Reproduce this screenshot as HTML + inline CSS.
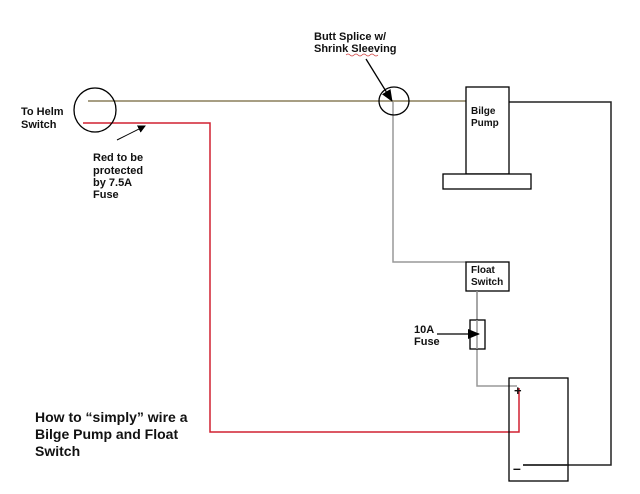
<!DOCTYPE html>
<html><head><style>
html,body{margin:0;padding:0;background:#fff;}
svg{display:block;}
text{font-family:"Liberation Sans",Arial,sans-serif;font-weight:bold;fill:#111;}
</style></head><body>
<svg width="640" height="494" viewBox="0 0 640 494" xmlns="http://www.w3.org/2000/svg">
<defs>
<marker id="ah" markerWidth="8" markerHeight="8" refX="7" refY="4" orient="auto" markerUnits="userSpaceOnUse">
<path d="M0,0 L8,4 L0,8 Z" fill="#000"/></marker>
<marker id="ah2" markerWidth="12" markerHeight="10" refX="11" refY="5" orient="auto" markerUnits="userSpaceOnUse">
<path d="M0,0 L12,5 L0,10 Z" fill="#000"/></marker>
</defs>
<line x1="88" y1="101" x2="466" y2="101" stroke="#8a7f5a" stroke-width="1.5"/>
<polyline points="83,123 210,123 210,432 519,432 519,388" fill="none" stroke="#d02030" stroke-width="1.5"/>
<polyline points="509,102 611,102 611,465 523,465" fill="none" stroke="#222" stroke-width="1.5"/>
<polyline points="393,102 393,262 466,262" fill="none" stroke="#999" stroke-width="1.5"/>
<polyline points="477,291 477,386 517,386" fill="none" stroke="#999" stroke-width="1.5"/>
<ellipse cx="95" cy="110" rx="21" ry="22" fill="none" stroke="#000" stroke-width="1.3"/>
<ellipse cx="394" cy="101" rx="15" ry="14" fill="none" stroke="#000" stroke-width="1.3"/>
<rect x="466" y="87" width="43" height="87" fill="#fff" stroke="#000" stroke-width="1.3"/>
<rect x="443" y="174" width="88" height="15" fill="#fff" stroke="#000" stroke-width="1.3"/>
<rect x="466" y="262" width="43" height="29" fill="#fff" stroke="#000" stroke-width="1.3"/>
<line x1="477" y1="291" x2="477" y2="320" stroke="#999" stroke-width="1.5"/>
<rect x="470" y="320" width="15" height="29" fill="#fff" stroke="#000" stroke-width="1.3"/>
<line x1="477" y1="320" x2="477" y2="349" stroke="#999" stroke-width="1.5"/>
<rect x="509" y="378" width="59" height="103" fill="none" stroke="#000" stroke-width="1.3"/>
<line x1="523" y1="465" x2="568" y2="465" stroke="#222" stroke-width="1.5"/>
<line x1="117" y1="140" x2="145" y2="126" stroke="#000" stroke-width="1" marker-end="url(#ah)"/>
<line x1="366" y1="59" x2="392" y2="101" stroke="#000" stroke-width="1.3" marker-end="url(#ah2)"/>
<line x1="437" y1="334" x2="479" y2="334" stroke="#000" stroke-width="1.3" marker-end="url(#ah2)"/>
<text x="21" y="115" font-size="11">To Helm</text>
<text x="21" y="128" font-size="11">Switch</text>
<text x="93" y="161" font-size="11">Red to be</text>
<text x="93" y="174" font-size="11">protected</text>
<text x="93" y="186" font-size="11">by 7.5A</text>
<text x="93" y="198" font-size="11">Fuse</text>
<text x="314" y="40" font-size="11">Butt Splice w/</text>
<text x="314" y="52" font-size="11">Shrink Sleeving</text>
<path d="M346,55 q2,-2 4,0 t4,0 t4,0 t4,0 t4,0 t4,0 t4,0 t4,0" fill="none" stroke="#d04040" stroke-width="0.7"/>
<text x="471" y="114" font-size="10" font-weight="normal">Bilge</text>
<text x="471" y="126" font-size="10" font-weight="normal">Pump</text>
<text x="471" y="273" font-size="10" font-weight="normal">Float</text>
<text x="471" y="285" font-size="10" font-weight="normal">Switch</text>
<text x="414" y="333" font-size="11">10A</text>
<text x="414" y="345" font-size="11">Fuse</text>
<text x="514" y="395" font-size="13">+</text>
<text x="513" y="473" font-size="14">–</text>
<text x="35" y="422" font-size="14">How to “simply” wire a</text>
<text x="35" y="439" font-size="14">Bilge Pump and Float</text>
<text x="35" y="456" font-size="14">Switch</text>
</svg>
</body></html>
